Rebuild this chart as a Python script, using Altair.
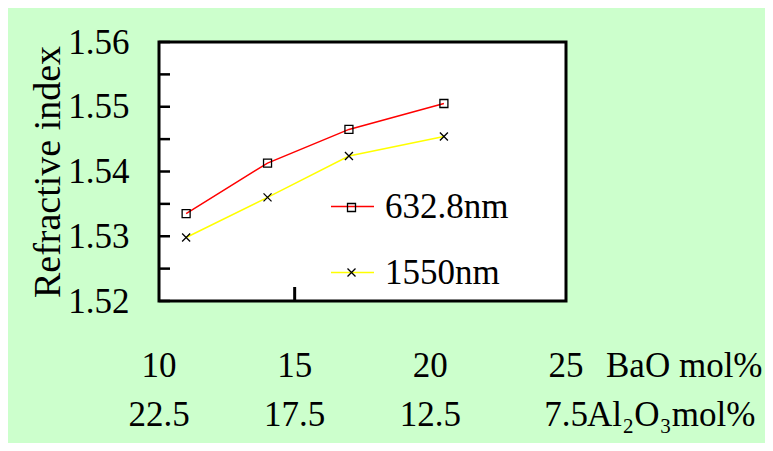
import altair as alt
import pandas as pd

# ---- data ----
bao_mol = [11, 14, 17, 20.5]
n_632 = [1.5335, 1.5413, 1.5465, 1.5505]
n_1550 = [1.5298, 1.5360, 1.5424, 1.5454]
series_names = ["632.8nm", "1550nm"]

y_labels = [1.52, 1.53, 1.54, 1.55, 1.56]
y_minor = [1.52, 1.525, 1.53, 1.535, 1.54, 1.545, 1.55, 1.555, 1.56]
x_inner_ticks = [15]

label_pos = [10, 15, 20, 25]
bao_labels = ["10", "15", "20", "25"]
al_labels = ["22.5", "17.5", "12.5", "7.5"]
bao_unit = ["BaO mol%"]
al_unit = ["Al\u2082O\u2083mol%"]

FONT = "Liberation Serif"
FS = 35

df = pd.DataFrame({
    "x": bao_mol + bao_mol,
    "n": n_632 + n_1550,
    "series": [series_names[0]] * len(bao_mol) + [series_names[1]] * len(bao_mol),
})
marker_names = ["m" + s for s in series_names]

xs = alt.Scale(domain=[10, 25], nice=False, zero=False)
ys = alt.Scale(domain=[1.52, 1.56], nice=False, zero=False)

y_axis = alt.Axis(values=y_labels, format=".2f", title="Refractive index",
                  ticks=False, domain=False, grid=False,
                  labelFont=FONT, labelFontSize=FS, labelColor="black", labelPadding=30,
                  titleFont=FONT, titleFontSize=38, titleFontWeight="normal",
                  titleColor="black", titlePadding=0)

lines = alt.Chart(df).mark_line(strokeWidth=1.5).encode(
    x=alt.X("x:Q", scale=xs, axis=None),
    y=alt.Y("n:Q", scale=ys, axis=y_axis),
    color=alt.Color("series:N",
                    scale=alt.Scale(domain=series_names, range=["#ff0000", "#ffff00"]),
                    legend=alt.Legend(orient="none", legendX=171, legendY=142, title=None,
                                      symbolType="stroke", symbolSize=1849,
                                      symbolStrokeWidth=1.5,
                                      labelFont=FONT, labelFontSize=FS, labelColor="black",
                                      labelOffset=10, rowPadding=25, padding=0)),
)

points = alt.Chart(df).transform_calculate(mk="'m' + datum.series").mark_point(
    filled=False, stroke="black", strokeWidth=1.3, size=64, opacity=1
).encode(
    x=alt.X("x:Q", scale=xs, axis=None),
    y=alt.Y("n:Q", scale=ys, axis=y_axis),
    shape=alt.Shape("mk:N",
                    scale=alt.Scale(domain=marker_names,
                                    range=["square", "M-1,-1L1,1M-1,1L1,-1"]),
                    legend=alt.Legend(orient="none", legendX=175, legendY=148, title=None,
                                      symbolSize=64, symbolStrokeColor="black",
                                      symbolStrokeWidth=1.3, symbolOpacity=1,
                                      labelFont=FONT, labelFontSize=FS,
                                      labelOpacity=0,
                                      labelOffset=10, rowPadding=29, padding=0)),
)

yticks = alt.Chart(pd.DataFrame({"n": y_minor})).mark_rule(color="black", strokeWidth=2.5).encode(
    y=alt.Y("n:Q", scale=ys, axis=y_axis),
    x=alt.value(0), x2=alt.value(11),
)

xticks = alt.Chart(pd.DataFrame({"x": x_inner_ticks})).mark_rule(color="black", strokeWidth=3).encode(
    x=alt.X("x:Q", scale=xs, axis=None),
    y=alt.value(259), y2=alt.value(245),
)

row1 = alt.Chart(pd.DataFrame({"x": label_pos, "lab": bao_labels})).mark_text(
    font=FONT, fontSize=FS, color="black", align="center", baseline="alphabetic"
).encode(x=alt.X("x:Q", scale=xs, axis=None), y=alt.value(335), text="lab:N")

row2 = alt.Chart(pd.DataFrame({"x": label_pos, "lab": al_labels})).mark_text(
    font=FONT, fontSize=FS, color="black", align="center", baseline="alphabetic"
).encode(x=alt.X("x:Q", scale=xs, axis=None), y=alt.value(384), text="lab:N")

unit1 = alt.Chart(pd.DataFrame({"x": [25], "lab": bao_unit})).mark_text(
    font=FONT, fontSize=FS, color="black", align="left", baseline="alphabetic", dx=40
).encode(x=alt.X("x:Q", scale=xs, axis=None), y=alt.value(335), text="lab:N")

unit2 = alt.Chart(pd.DataFrame({"x": [25], "lab": al_unit})).mark_text(
    font=FONT, fontSize=FS, color="black", align="left", baseline="alphabetic", dx=21
).encode(x=alt.X("x:Q", scale=xs, axis=None), y=alt.value(384), text="lab:N")

chart = alt.layer(lines, points, yticks, xticks, row1, row2, unit1, unit2).properties(
    width=407, height=259,
    autosize=alt.AutoSizeParams(type="none"),
    padding={"left": 151, "top": 34, "right": 199, "bottom": 142},
    background="#ccffcc",
).configure_view(stroke="black", strokeWidth=3, fill="white")

chart.save("out.html", embed_options={"renderer": "svg", "actions": False})
